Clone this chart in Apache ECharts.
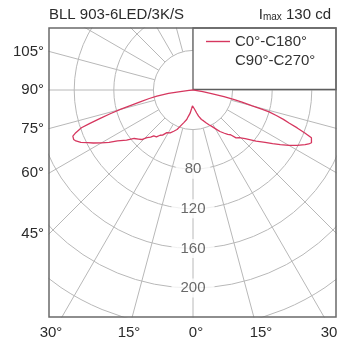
<!DOCTYPE html>
<html><head><meta charset="utf-8">
<script src="https://cdn.jsdelivr.net/npm/echarts@6/dist/echarts.min.js"></script>
<style>html,body{margin:0;padding:0;background:#fff}#c{width:338px;height:347px}</style>
</head><body><div id="c"></div>
<script>
// ---- text ----
const titleText = 'BLL 903-6LED/3K/S';
const imaxParts = ['I', 'max', ' 130 cd'];
const seriesNames = ['C0°-C180°', 'C90°-C270°'];
// ---- tick labels ----
const ringTickValues = [80, 120, 160, 200];
const leftAngleTicks = [105, 90, 75, 60, 45];
const bottomAngleTicks = ['30°', '15°', '0°', '15°', '30°'];
// ---- data: gamma (deg from nadir) and intensity (cd) ----
const c0Angles = [0, 2, 4, 6, 9, 12, 16, 19, 22, 25, 27, 30, 33, 36, 38, 40, 42, 44, 47, 51, 54, 56, 58, 60, 62, 64, 65, 66, 67, 68, 69, 70, 71, 72, 73, 74, 74.5, 75, 76, 77, 78, 79, 80, 82, 85, 90];
const c0Values = [15, 16, 19, 21, 23.5, 27, 31, 33, 36, 39, 41, 45, 50, 54, 57, 59, 65, 67, 72, 82, 90, 97, 104, 112, 119, 126, 129, 131, 132, 129, 121, 112, 103, 96, 88, 80, 72, 62, 51, 42, 32, 19, 10, 4, 1, 0];
const c180Angles = [0, 2, 4, 7, 10, 12, 14, 16, 19.5, 22, 25, 28, 30, 31.5, 34, 36, 38, 40.5, 42, 44, 46, 48, 50.5, 53, 56, 58, 60, 62, 63.5, 65, 66.5, 67.5, 69, 70, 71.3, 72, 73, 74, 75, 76, 77.5, 79, 80.5, 82, 83, 85, 90];
const c180Values = [15, 16, 18.5, 23.5, 27, 30.5, 32.5, 34.5, 39, 43, 46, 49, 51.5, 50.5, 55, 56.5, 60, 61, 64, 67, 72, 74, 77, 84, 92, 100, 107, 114, 119, 125, 129, 130.5, 130, 126, 119, 110, 98, 87, 76, 66, 54, 45, 37, 25, 13, 4, 0];

// ---- layout ----
const CX = 193, CY = 90, RMAX = 280, PX_PER_CD = 0.99;
const FRAME = {l: 49, t: 28, r: 336, b: 317};
const RING_STEP = 40, SPOKE_STEP = 15, SPOKE_START = 40;
const bottomLabelX = [51, 129, 196, 261, 332];
const FONT = '"Liberation Sans", Arial, sans-serif';
const GRID = '#b8b8b8', CURVE = '#d6375f', TXT = '#2b2b2b';

const chart = echarts.init(document.getElementById('c'));

const curve = [];
for (let i = c180Angles.length - 1; i >= 0; i--) curve.push([c180Values[i], -c180Angles[i]]);
for (let i = 1; i < c0Angles.length; i++) curve.push([c0Values[i], c0Angles[i]]);

const series = [];
for (let a = -165; a <= 180; a += SPOKE_STEP) {
  series.push({type: 'line', coordinateSystem: 'polar', silent: true, symbol: 'none', z: 2,
    lineStyle: {color: GRID, width: 1}, data: [[SPOKE_START, a], [RMAX, a]]});
}
series.push({type: 'scatter', coordinateSystem: 'polar', silent: true, z: 55, symbolSize: 1,
  itemStyle: {color: 'rgba(0,0,0,0)'},
  data: ringTickValues.map(v => [v, 0]),
  label: {show: true, position: 'inside', formatter: p => String(p.value[0]),
    fontSize: 15, color: '#444', fontFamily: FONT, backgroundColor: '#fff', padding: [2, 9]}});
series.push({name: seriesNames[0], type: 'line', coordinateSystem: 'polar', symbol: 'none', z: 60,
  lineStyle: {color: CURVE, width: 1.3}, itemStyle: {color: CURVE}, data: curve});
series.push({name: seriesNames[1], type: 'line', coordinateSystem: 'polar', symbol: 'none', z: 60,
  lineStyle: {color: 'rgba(0,0,0,0)', width: 1.3}, itemStyle: {color: 'rgba(0,0,0,0)'}, data: []});

const graphics = [];
const W = 338, H = 347;
[[0, 0, FRAME.l - 0.5, H], [0, 0, W, FRAME.t - 0.5], [FRAME.r + 0.5, 0, W - FRAME.r, H], [0, FRAME.b + 0.5, W, H]].forEach(r => {
  graphics.push({type: 'rect', z: 50, silent: true, shape: {x: r[0], y: r[1], width: r[2], height: r[3]}, style: {fill: '#fff'}});
});
graphics.push({type: 'rect', z: 51, silent: true, shape: {x: CX, y: FRAME.t, width: FRAME.r - CX, height: CY - FRAME.t - 0.5},
  style: {fill: '#fff', stroke: '#5e5e5e', lineWidth: 1.3}});
graphics.push({type: 'rect', z: 52, silent: true, shape: {x: FRAME.l, y: FRAME.t, width: FRAME.r - FRAME.l, height: FRAME.b - FRAME.t},
  style: {fill: 'none', stroke: '#6a6a6a', lineWidth: 1.5}});
graphics.push({type: 'text', z: 70, style: {text: titleText, x: FRAME.l, y: 15, textVerticalAlign: 'middle', textAlign: 'left',
  font: '15px ' + FONT, fill: TXT}});
graphics.push({type: 'text', z: 70, style: {text: '{a|' + imaxParts[0] + '}{b|' + imaxParts[1] + '}{a|' + imaxParts[2] + '}',
  x: 331, y: 15, textAlign: 'right', textVerticalAlign: 'middle',
  rich: {a: {fontSize: 15, fontFamily: FONT, fill: TXT, color: TXT}, b: {fontSize: 10, fontFamily: FONT, fill: TXT, color: TXT, padding: [4, 0, 0, 0]}}}});
leftAngleTicks.forEach(g => {
  const y = CY + (CX - FRAME.l) / Math.tan(g * Math.PI / 180);
  graphics.push({type: 'text', z: 70, style: {text: g + '°', x: 44, y: y, textAlign: 'right', textVerticalAlign: 'middle',
    font: '15px ' + FONT, fill: TXT}});
});
bottomAngleTicks.forEach((t, i) => {
  graphics.push({type: 'text', z: 70, style: {text: t, x: bottomLabelX[i], y: 333, textAlign: 'center', textVerticalAlign: 'middle',
    font: '15px ' + FONT, fill: TXT}});
});

const lineIcon = 'path://M0,0L24,0L24,1.4L0,1.4Z';
chart.setOption({
  animation: false,
  polar: {center: [CX, CY], radius: RMAX * PX_PER_CD},
  angleAxis: {type: 'value', min: -180, max: 180, startAngle: 90, clockwise: false,
    axisLine: {show: false}, axisTick: {show: false}, axisLabel: {show: false}, splitLine: {show: false}},
  radiusAxis: {type: 'value', min: 0, max: RMAX, interval: RING_STEP,
    axisLine: {show: false}, axisTick: {show: false}, axisLabel: {show: false},
    splitLine: {show: true, lineStyle: {color: GRID, width: 1}}},
  legend: {data: seriesNames.map(n => ({name: n, icon: lineIcon})), symbolKeepAspect: true,
    orient: 'vertical', left: 206, top: 34, itemWidth: 24, itemHeight: 14, itemGap: 4, padding: 0, z: 70,
    selectedMode: false, textStyle: {fontSize: 15, color: '#333', fontFamily: FONT}},
  series: series,
  graphic: graphics
});
</script></body></html>
